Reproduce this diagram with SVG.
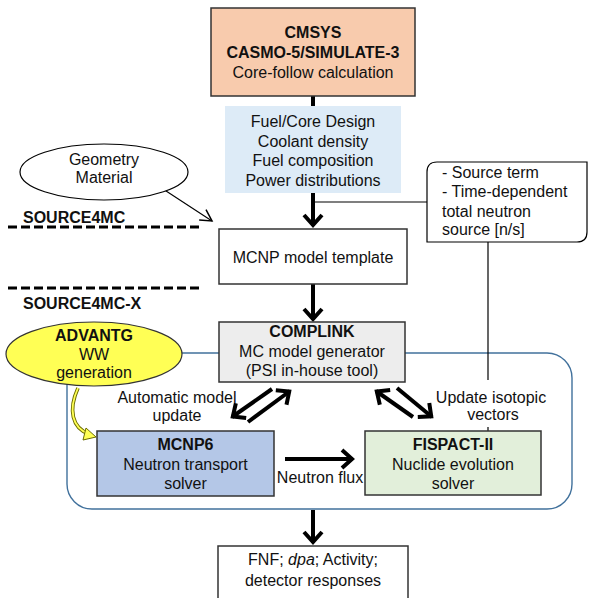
<svg xmlns="http://www.w3.org/2000/svg" width="590" height="598" viewBox="0 0 590 598">
<defs>
<style>
text{font-family:"Liberation Sans",Arial,sans-serif;font-size:16px;fill:#111;}
.c{text-anchor:middle;}
.b{font-weight:bold;}
.box{stroke:#333;stroke-width:1.5;}
.thick{stroke:#000;stroke-width:4;fill:none;}
.thin{stroke:#000;stroke-width:1.2;fill:none;}
.dash{stroke:#000;stroke-width:3;stroke-dasharray:9 4;fill:none;}
</style>
<marker id="chev" markerUnits="userSpaceOnUse" markerWidth="30" markerHeight="30" viewBox="-20 -15 25 30" refX="0" refY="0" orient="auto" overflow="visible">
<path d="M-11,-9 L-1,0 L-11,9" fill="none" stroke="#000" stroke-width="4"/>
</marker>
<marker id="open" markerUnits="userSpaceOnUse" markerWidth="20" markerHeight="20" viewBox="-12 -8 14 16" refX="0" refY="0" orient="auto" overflow="visible">
<path d="M-9,-5 L0,0 L-9,5" fill="none" stroke="#000" stroke-width="1.2"/>
</marker>
</defs>

<g id="container">
<rect x="67" y="353" width="505" height="156" rx="25" fill="none" stroke="#41719C" stroke-width="1.4"/>
</g>

<g id="connectors">
<line class="thick" x1="313" y1="96" x2="313" y2="226" marker-end="url(#chev)"/>
<line class="thick" x1="313" y1="284" x2="313" y2="320" marker-end="url(#chev)"/>
<line class="thick" x1="313" y1="510" x2="313" y2="543" marker-end="url(#chev)"/>
<line class="thin" x1="313" y1="202" x2="427" y2="202"/>
<line class="thin" x1="488" y1="242" x2="488" y2="380"/>
<line class="thin" x1="488" y1="427" x2="488" y2="431"/>
<line class="thin" x1="163" y1="189" x2="212" y2="221" marker-end="url(#open)"/>
<line class="thick" x1="272" y1="389" x2="232" y2="417" marker-end="url(#chev)"/>
<line class="thick" x1="248" y1="422" x2="290" y2="391" marker-end="url(#chev)"/>
<line class="thick" x1="413" y1="417" x2="376" y2="391" marker-end="url(#chev)"/>
<line class="thick" x1="397" y1="388" x2="432" y2="417" marker-end="url(#chev)"/>
<line class="thick" x1="285" y1="459" x2="353" y2="459" marker-end="url(#chev)"/>
<path d="M78,388 C68,410 72,428 89,434" fill="none" stroke="#6B6B00" stroke-width="3.6"/>
<path d="M78,388 C68,410 72,428 89,434" fill="none" stroke="#FFFF55" stroke-width="1.8"/>
<path d="M86,428 L96,437 L83,440 Z" fill="#FFFF55" stroke="#6B6B00" stroke-width="1"/>
</g>

<g id="cmsys">
<rect class="box" x="211" y="8" width="204" height="88" fill="#F8CBAD"/>
<text class="c b" x="313" y="38">CMSYS</text>
<text class="c b" x="313" y="58">CASMO-5/SIMULATE-3</text>
<text class="c" x="313" y="78">Core-follow calculation</text>
</g>

<g id="coreData">
<rect x="225" y="106" width="176" height="87" fill="#DDEBF7"/>
<text class="c" x="313" y="127">Fuel/Core Design</text>
<text class="c" x="313" y="146.5">Coolant density</text>
<text class="c" x="313" y="166">Fuel composition</text>
<text class="c" x="313" y="185.5">Power distributions</text>
</g>

<g id="geometry">
<ellipse cx="104" cy="172" rx="84" ry="28" fill="#fff" stroke="#000" stroke-width="1.2"/>
<text class="c" x="104" y="165">Geometry</text>
<text class="c" x="104" y="183">Material</text>
</g>

<g id="labels">
<text class="b" x="23" y="223">SOURCE4MC</text>
<line class="dash" x1="8" y1="227" x2="199" y2="227"/>
<line class="dash" x1="8" y1="288" x2="199" y2="288"/>
<text class="b" x="23" y="309">SOURCE4MC-X</text>
<text class="c" x="177" y="403">Automatic model</text>
<text class="c" x="177" y="421">update</text>
<text class="c" x="491" y="403">Update isotopic</text>
<text class="c" x="493" y="420">vectors</text>
<text class="c" x="320" y="483">Neutron flux</text>
</g>

<g id="sourceTerm">
<path d="M437,162 L587,162 L587,232 Q587,242 577,242 L427,242 L427,172 Q427,162 437,162 Z" fill="#fff" stroke="#000" stroke-width="1.2"/>
<text x="442" y="178">- Source term</text>
<text x="442" y="197">- Time-dependent</text>
<text x="442" y="216.5">total neutron</text>
<text x="442" y="235">source [n/s]</text>
</g>

<g id="template">
<rect class="box" x="219" y="229" width="188" height="55" fill="#fff"/>
<text class="c" x="313" y="263">MCNP model template</text>
</g>

<g id="complink">
<rect class="box" x="219" y="322" width="186" height="60" fill="#EDEDED"/>
<text class="c b" x="312" y="337">COMPLINK</text>
<text class="c" x="312" y="357">MC model generator</text>
<text class="c" x="312" y="376">(PSI in-house tool)</text>
</g>

<g id="advantg">
<ellipse cx="94" cy="354" rx="88" ry="32" fill="#FFFF55" stroke="#333" stroke-width="1.2"/>
<text class="c b" x="94" y="341">ADVANTG</text>
<text class="c" x="94" y="360">WW</text>
<text class="c" x="94" y="378">generation</text>
</g>

<g id="mcnp6">
<rect class="box" x="97" y="431" width="177" height="65" fill="#B4C7E7"/>
<text class="c b" x="185.5" y="450">MCNP6</text>
<text class="c" x="185.5" y="470">Neutron transport</text>
<text class="c" x="185.5" y="489">solver</text>
</g>

<g id="fispact">
<rect class="box" x="365" y="431" width="176" height="64" fill="#E2EFDA"/>
<text class="c b" x="453" y="450">FISPACT-II</text>
<text class="c" x="453" y="470">Nuclide evolution</text>
<text class="c" x="453" y="489">solver</text>
</g>

<g id="results">
<rect class="box" x="218" y="546" width="190" height="60" fill="#fff"/>
<text class="c" x="313" y="565">FNF; <tspan font-style="italic">dpa</tspan>; Activity;</text>
<text class="c" x="313" y="586">detector responses</text>
</g>
</svg>
